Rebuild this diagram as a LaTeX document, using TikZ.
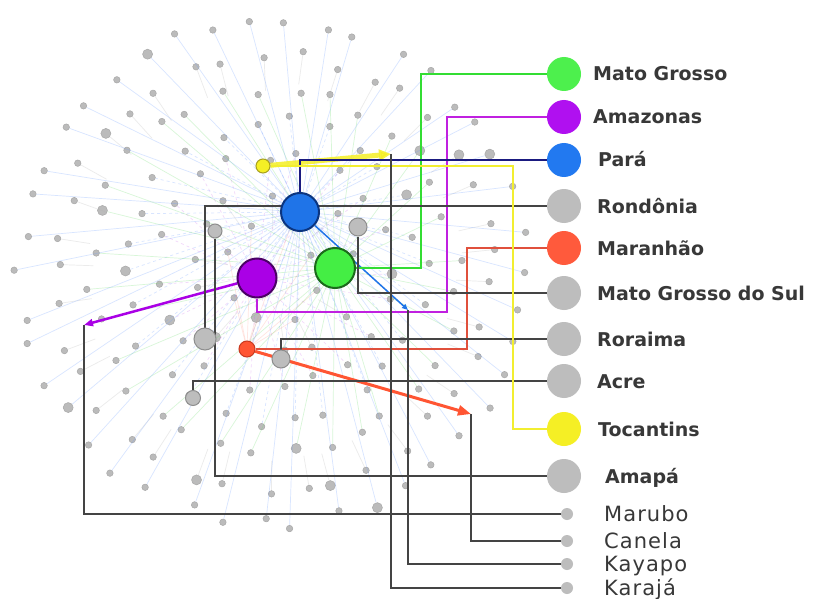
\documentclass[tikz,border=0pt]{standalone}
\usepackage{fontspec}
\setmainfont{DejaVu Sans}
\newfontfamily\tribefont[LetterSpace=5]{DejaVu Sans}
\usetikzlibrary{arrows.meta}
\pgfdeclarelayer{back}
\pgfdeclarelayer{mid}
\pgfsetlayers{back,mid,main}
\definecolor{cgreen}{HTML}{44EE44}
\definecolor{cgreenD}{HTML}{1C6B1C}
\definecolor{cpurple}{HTML}{AA00E6}
\definecolor{cpurpleD}{HTML}{4B0066}
\definecolor{cblue}{HTML}{1F74E8}
\definecolor{cblueD}{HTML}{0B3580}
\definecolor{cred}{HTML}{FF5533}
\definecolor{credD}{HTML}{C83A20}
\definecolor{cyellow}{HTML}{F5EF25}
\definecolor{cyellowD}{HTML}{A8A020}
\definecolor{cgrey}{HTML}{BDBDBD}
\definecolor{cgreyD}{HTML}{8E8E8E}
\definecolor{lgreen}{HTML}{4DF04D}
\definecolor{lpurple}{HTML}{B010F0}
\definecolor{lblue}{HTML}{2279F0}
\definecolor{lred}{HTML}{FF5A3C}
\definecolor{cnavy}{HTML}{1A1A80}
\definecolor{cgline}{HTML}{33DD33}
\definecolor{cpline}{HTML}{C020E0}
\definecolor{crline}{HTML}{E0503C}
\definecolor{cyline}{HTML}{F2EE30}
\definecolor{cline}{HTML}{444444}
\definecolor{ctext}{HTML}{383838}
\definecolor{cdot}{HTML}{BBBBBB}
\definecolor{cdotD}{HTML}{A8A8A8}
\definecolor{eblue}{HTML}{6699FF}
\definecolor{egreen}{HTML}{66DD66}
\definecolor{epurple}{HTML}{CC66EE}
\definecolor{ered}{HTML}{FF9988}
\definecolor{egrey}{HTML}{B0B0B0}
\begin{document}
\begin{tikzpicture}[x=1pt,y=-1pt,
  hub/.style={circle,draw,line width=2pt,inner sep=0pt},
  small/.style={circle,draw=cgreyD,fill=cgrey,line width=1pt,inner sep=0pt},
  legdot/.style={circle,inner sep=0pt,minimum size=34pt},
  tribedot/.style={circle,fill=cgrey,inner sep=0pt,minimum size=12pt},
  lab/.style={anchor=base west,inner sep=0pt,text=ctext,font=\bfseries\fontsize{19}{20}\selectfont},
  tlab/.style={anchor=base west,inner sep=0pt,text=ctext,font=\tribefont\fontsize{21}{22}\selectfont},
  conn/.style={draw=cline,line width=2pt},
  bgdot/.style={circle,fill=cdot,draw=cdotD,line width=0.5pt,inner sep=0pt},
  faint/.style={line width=0.7pt,opacity=0.25},
]
\begin{pgfonlayer}{back}
\fill[white] (0,0) rectangle (814,599);
\end{pgfonlayer}
\useasboundingbox (0,0) rectangle (814,599);

% hub nodes of the graph
\node[hub,fill=cblue,draw=cblueD,minimum size=38pt] (pa) at (300,212) {};
\node[hub,fill=cgreen,draw=cgreenD,minimum size=40pt] (mt) at (335,268) {};
\node[hub,fill=cpurple,draw=cpurpleD,minimum size=39pt] (am) at (257,278) {};
\node[hub,fill=cyellow,draw=cyellowD,line width=1pt,minimum size=14pt] (to) at (263,166) {};
\node[hub,fill=cred,draw=credD,line width=1pt,minimum size=16pt] (ma) at (247,349) {};
\node[small,minimum size=18pt] (ms) at (358,227) {};
\node[small,minimum size=14pt] (ap) at (215,231) {};
\node[small,minimum size=22pt] (ro) at (205,339) {};
\node[small,minimum size=18pt] (rr) at (281,359) {};
\node[small,minimum size=15pt] (ac) at (193,398) {};

% legend
\node[legdot,fill=lgreen] (lgMT) at (564,74) {};
\node[legdot,fill=lpurple] (lgAM) at (564,117) {};
\node[legdot,fill=lblue] (lgPA) at (564,160) {};
\node[legdot,fill=cgrey] (lgRO) at (564,206) {};
\node[legdot,fill=lred] (lgMA) at (564,248) {};
\node[legdot,fill=cgrey] (lgMS) at (564,293) {};
\node[legdot,fill=cgrey] (lgRR) at (564,339) {};
\node[legdot,fill=cgrey] (lgAC) at (564,381) {};
\node[legdot,fill=cyellow] (lgTO) at (564,429) {};
\node[legdot,fill=cgrey] (lgAP) at (564,476) {};
\node[tribedot] (tMB) at (567,514) {};
\node[tribedot] (tCN) at (567,541) {};
\node[tribedot] (tKY) at (567,564) {};
\node[tribedot] (tKJ) at (567,588) {};

\node[lab] (xMT) at (593,81) {Mato Grosso};
\node[lab] (xAM) at (593,124) {Amazonas};
\node[lab] (xPA) at (598,167) {Pará};
\node[lab] (xRO) at (597,213) {Rondônia};
\node[lab] (xMA) at (597,255) {Maranhão};
\node[lab] (xMS) at (597,300) {Mato Grosso do Sul};
\node[lab] (xRR) at (597,346) {Roraima};
\node[lab] (xAC) at (597,388) {Acre};
\node[lab] (xTO) at (598,436) {Tocantins};
\node[lab] (xAP) at (605,483) {Amapá};
\node[tlab] (xMB) at (604,521) {Marubo};
\node[tlab] (xCN) at (604,548) {Canela};
\node[tlab] (xKY) at (604,571) {Kayapo};
\node[tlab] (xKJ) at (604,595) {Karajá};

\coordinate (mbEnd) at (84,325);
\coordinate (cnEnd) at (471,414);
\coordinate (kyEnd) at (408,310);
\coordinate (kjEnd) at (391,154);

% background graph
\begin{pgfonlayer}{back}
\pgfmathsetseed{4242}
\foreach \r/\n [count=\k] in {48/8,82/14,116/20,150/26,184/32,218/37,252/42} {
  \foreach \i in {1,...,\n} {
    \pgfmathsetmacro{\ang}{360*\i/\n+17*\k+rand*500/\r}
    \pgfmathsetmacro{\rr}{\r+rand*7}
    \pgfmathsetmacro{\ri}{\rr-33}
    \pgfmathsetmacro{\ds}{mod(\i*5+\k,11)==0 ? 10 : 6.5}
    \pgfmathtruncatemacro{\h}{mod(\i*7+\k*3,7)}
    \node[bgdot,minimum size=\ds pt] (d\k-\i) at ([shift={(\ang:\rr)}]273,272) {};
    \ifcase\h
      \draw[faint,draw=eblue] (pa) -- (d\k-\i);
    \or
      \draw[faint,draw=egreen] (mt) -- (d\k-\i);
    \or
      \draw[faint,draw=epurple,dashed] (am) -- (d\k-\i);
    \or
      \draw[faint,draw=ered] (ma) -- (d\k-\i);
    \or
      \draw[faint,draw=egrey] (d\k-\i) -- ([shift={(\ang:\ri)}]273,272);
    \or
      \draw[faint,draw=eblue,dashed] (pa) -- (d\k-\i);
    \else
      \draw[faint,draw=egrey] (d\k-\i) -- ([shift={(\ang:\ri)}]273,272);
    \fi
  }
}
\end{pgfonlayer}

% connectors
\begin{pgfonlayer}{mid}
\draw[line width=2.5pt,draw=cpurple,-{Triangle[length=9pt,width=7pt]}] (am) -- (mbEnd);
\draw[line width=3pt,draw=cred,-{Triangle[length=13pt,width=10pt]}] (ma) -- (cnEnd);
\draw[line width=1.5pt,draw=cblue,-{Triangle[length=6pt,width=5pt]}] (pa) -- (kyEnd);
\draw[line width=5pt,draw=cyellow,opacity=0.85,-{Triangle[length=12pt,width=11pt]}] (to) -- (kjEnd);

\draw[conn,draw=cgline] (mt.east) -- (421,268) |- (lgMT.west);
\draw[conn,draw=cpline] (am.south) |- (447,312) |- (lgAM.west);
\draw[conn,draw=cnavy] (pa.north) |- (lgPA.west);
\draw[conn] (ro.north) |- (lgRO.west);
\draw[conn,draw=crline] (ma.east) -- (467,349) |- (lgMA.west);
\draw[conn] (ms.south) |- (lgMS.west);
\draw[conn] (rr.north) |- (lgRR.west);
\draw[conn] (ac.north) |- (lgAC.west);
\draw[conn,draw=cyline] (to.east) -- (513,166) |- (lgTO.west);
\draw[conn] (ap.south) |- (lgAP.west);
\draw[conn] (mbEnd) |- (tMB.west);
\draw[conn] (cnEnd) |- (tCN.west);
\draw[conn] (kyEnd) |- (tKY.west);
\draw[conn] (kjEnd) |- (tKJ.west);
\end{pgfonlayer}
\end{tikzpicture}
\end{document}
